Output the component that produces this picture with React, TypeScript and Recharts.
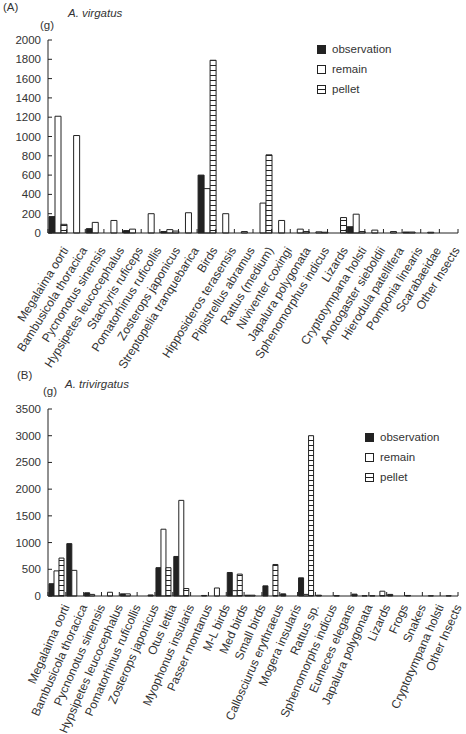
import { BarChart, Bar, XAxis, YAxis, Legend } from "recharts";

// panel A: A. virgatus
const catsA = [
  "Megalaima oorti", "Bambusicola thoracica", "Pycnonotus sinensis", "Hypsipetes leucocephalus",
  "Stachyris ruficeps", "Pomatorhinus ruficollis", "Zosterops japonicus", "Streptopelia tranquebarica",
  "Birds", "Hipposideros terasensis", "Pipistrellus abramus", "Rattus (medium)", "Niviventer coxingi",
  "Japalura polygonata", "Sphenomorphus indicus", "Lizards", "Cryptotympana holsti",
  "Anotogaster sieboldii", "Hierodula patellifera", "Pomponia linearis", "Scarabaeidae", "Other Insects"
];
const obsA = [170, 0, 45, 0, 25, 0, 15, 0, 600, 0, 0, 0, 0, 0, 0, 0, 65, 0, 0, 10, 0, 0];
const remA = [1210, 1010, 110, 130, 40, 200, 35, 210, 460, 200, 15, 310, 130, 40, 12, 0, 195, 30, 15, 10, 8, 0];
const pelA = [90, 0, 0, 0, 0, 0, 20, 0, 1790, 0, 0, 810, 0, 15, 8, 160, 15, 0, 0, 0, 0, 0];
const ticksA = [0, 200, 400, 600, 800, 1000, 1200, 1400, 1600, 1800, 2000];

// panel B: A. trivirgatus
const catsB = [
  "Megalaima oorti", "Bambusicola thoracica", "Pycnonotus sinensis", "Hypsipetes leucocephalus",
  "Pomatorhinus ruficollis", "Zosterops japonicus", "Otus lettia", "Myophonus insularis",
  "Passer montanus", "M-L birds", "Med birds", "Small birds", "Callosciurus erythraeus",
  "Mogera insularis", "Rattus sp.", "Sphenomorphs indicus", "Eumeces elegans", "Japalura polygonata",
  "Lizards", "Frogs", "Snakes", "Cryptotympana holsti", "Other Insects"
];
const obsB = [230, 980, 60, 0, 40, 0, 530, 740, 0, 0, 440, 15, 190, 40, 340, 15, 6, 35, 5, 30, 10, 0, 0];
const remB = [470, 480, 30, 70, 40, 0, 1250, 1790, 0, 150, 100, 15, 0, 0, 30, 0, 0, 0, 0, 0, 0, 5, 5];
const pelB = [710, 0, 0, 0, 0, 20, 530, 140, 10, 0, 410, 0, 590, 0, 3000, 0, 0, 5, 90, 0, 0, 0, 0];
const ticksB = [0, 500, 1000, 1500, 2000, 2500, 3000, 3500];

const seriesOrder = ["observation", "remain", "pellet"];

const FONT = '"Liberation Sans", Arial, sans-serif';
const INK = "#222";
const TXT = "#333";
const W = 466;
const AXIS_LEFT = 48;
const RIGHT = 8;

const rows = (cats: string[], obs: number[], rem: number[], pel: number[]) =>
  cats.map((name, i) => ({ name, observation: obs[i], remain: rem[i], pellet: pel[i] }));

const LegendBox = ({ payload }: any) => {
  const items = [...(payload || [])].sort(
    (a: any, b: any) => seriesOrder.indexOf(a.dataKey) - seriesOrder.indexOf(b.dataKey)
  );
  return (
    <div style={{ fontFamily: FONT, fontSize: 11.5, color: TXT }}>
      {items.map((p: any) => (
        <div key={p.value} style={{ display: "flex", alignItems: "center", height: 20 }}>
          <svg width={9} height={9} style={{ marginRight: 6 }}>
            <rect x={0.5} y={0.5} width={8} height={8}
              fill={p.dataKey === "observation" ? INK : "#fff"} stroke={INK} />
            {p.dataKey === "pellet" && <line x1={0.5} x2={8.5} y1={4.5} y2={4.5} stroke={INK} />}
          </svg>
          <span>{p.value}</span>
        </div>
      ))}
    </div>
  );
};

function Panel({ id, data, ticks, max, height, top, xAxisH, angle, dx, dy, legendLeft, legendTop }: any) {
  const bw = (W - AXIS_LEFT - RIGHT) / data.length;
  const n = data.length;

  const CatTick = (props: any) => {
    const { x, y, payload, index } = props;
    const bx = x - bw / 2;
    const ax = x + dx;
    const ay = y + dy;
    return (
      <g>
        <line x1={bx} x2={bx} y1={y} y2={y - 4} stroke={INK} />
        {index === n - 1 && <line x1={x + bw / 2} x2={x + bw / 2} y1={y} y2={y - 4} stroke={INK} />}
        <text x={ax} y={ay} dy="0.35em" transform={`rotate(${-angle} ${ax} ${ay})`} textAnchor="end"
          fontSize={12} fontFamily={FONT} fill={TXT}>
          {payload.value}
        </text>
      </g>
    );
  };

  const ValTick = (props: any) => {
    const { x, y, payload } = props;
    return (
      <g>
        <line x1={x} x2={x + 4} y1={y} y2={y} stroke={INK} />
        <text x={x - 7} y={y + 4} textAnchor="end" fontSize={11.5} fontFamily={FONT} fill={TXT}>
          {payload.value}
        </text>
      </g>
    );
  };

  return (
    <BarChart width={W} height={height} data={data}
      margin={{ top, right: RIGHT, left: 0, bottom: 0 }}
      barCategoryGap={1} barGap={0}>
      <defs>
        <pattern id={id} width={4} height={5} patternUnits="userSpaceOnUse">
          <rect width={4} height={5} fill="#fff" />
          <line x1={0} x2={4} y1={0.5} y2={0.5} stroke={INK} strokeWidth={1} />
        </pattern>
      </defs>
      <XAxis dataKey="name" interval={0} height={xAxisH} tickSize={0} tickMargin={0}
        tickLine={false} stroke={INK} tick={CatTick} />
      <YAxis width={AXIS_LEFT} domain={[0, max]} ticks={ticks} interval={0} tickSize={0}
        tickMargin={0} tickLine={false} stroke={INK} tick={ValTick} />
      <Legend layout="vertical" verticalAlign="middle" align="center" content={<LegendBox />}
        wrapperStyle={{ left: legendLeft, top: legendTop, width: 110, height: 60 }} />
      <Bar dataKey="observation" fill={INK} stroke={INK} strokeWidth={1} isAnimationActive={false} />
      <Bar dataKey="remain" fill="#fff" stroke={INK} strokeWidth={1} isAnimationActive={false} />
      <Bar dataKey="pellet" fill={`url(#${id})`} stroke={INK} strokeWidth={1} isAnimationActive={false} />
    </BarChart>
  );
}

const label = (text: string, left: number, top: number, italic = false) => (
  <div style={{
    position: "absolute", left, top, fontFamily: FONT, fontSize: 11.5, lineHeight: 1,
    color: TXT, whiteSpace: "nowrap", fontStyle: italic ? "italic" : "normal"
  }}>{text}</div>
);

export default function App() {
  const dataA = rows(catsA, obsA, remA, pelA);
  const dataB = rows(catsB, obsB, remB, pelB);
  return (
    <div style={{ position: "absolute", left: 0, top: 0, width: W, height: 734, background: "#fff" }}>
      <div style={{ position: "absolute", left: 0, top: 0 }}>
        <Panel id="stripeA" data={dataA} ticks={ticksA} max={2000} height={370} top={40}
          xAxisH={137} angle={58} dx={8} dy={15} legendLeft={317} legendTop={39} />
      </div>
      <div style={{ position: "absolute", left: 0, top: 370 }}>
        <Panel id="stripeB" data={dataB} ticks={ticksB} max={3500} height={364} top={39}
          xAxisH={138} angle={66} dx={9} dy={9} legendLeft={365} legendTop={57} />
      </div>
      {label("(A)", 3, 2)}
      {label("A. virgatus", 68, 8, true)}
      {label("(g)", 40, 20)}
      {label("(B)", 17, 370)}
      {label("A. trivirgatus", 65, 379, true)}
      {label("(g)", 43, 386)}
    </div>
  );
}
